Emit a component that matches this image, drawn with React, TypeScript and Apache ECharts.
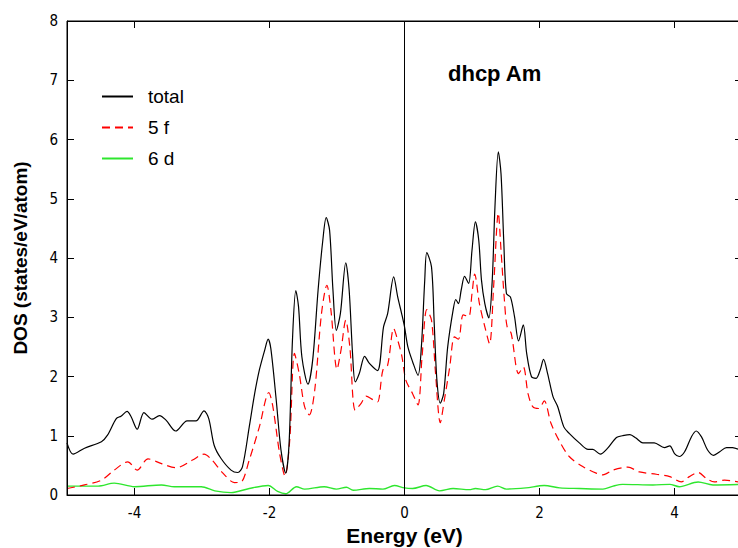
import React, { useEffect, useRef } from "react";
import * as echarts from "echarts";

const xTicks = [-4, -2, 0, 2, 4];
const yTicks = [1, 2, 3, 4, 5, 6, 7];

const totalE = [-5.0, -4.91, -4.74, -4.49, -4.4, -4.27, -4.2, -4.11, -4.05, -3.96, -3.86, -3.74, -3.63, -3.53, -3.39, -3.22, -3.09, -2.97, -2.9, -2.82, -2.72, -2.57, -2.47, -2.4, -2.3, -2.22, -2.15, -2.07, -2.02, -1.98, -1.9, -1.83, -1.76, -1.71, -1.66, -1.61, -1.57, -1.52, -1.43, -1.36, -1.28, -1.21, -1.16, -1.11, -1.06, -1.01, -0.95, -0.87, -0.82, -0.77, -0.73, -0.67, -0.59, -0.52, -0.4, -0.31, -0.25, -0.16, -0.1, -0.04, 0.0, 0.05, 0.12, 0.2, 0.25, 0.3, 0.33, 0.4, 0.44, 0.48, 0.53, 0.58, 0.64, 0.72, 0.76, 0.8, 0.84, 0.89, 0.95, 1.0, 1.05, 1.1, 1.14, 1.19, 1.25, 1.3, 1.34, 1.39, 1.43, 1.47, 1.51, 1.57, 1.63, 1.69, 1.76, 1.81, 1.88, 1.95, 2.01, 2.06, 2.12, 2.2, 2.27, 2.36, 2.44, 2.59, 2.72, 2.79, 2.9, 3.01, 3.14, 3.23, 3.34, 3.43, 3.53, 3.7, 3.85, 3.93, 4.0, 4.07, 4.15, 4.25, 4.32, 4.4, 4.49, 4.58, 4.67, 4.77, 4.86, 5.0];
const totalDOS = [0.88, 0.69, 0.79, 0.9, 1.01, 1.29, 1.33, 1.41, 1.32, 1.11, 1.39, 1.28, 1.34, 1.26, 1.08, 1.25, 1.25, 1.42, 1.29, 0.84, 0.62, 0.42, 0.38, 0.48, 1.15, 1.71, 2.11, 2.45, 2.63, 2.47, 1.6, 0.76, 0.37, 0.87, 2.61, 3.45, 3.18, 2.33, 1.87, 2.28, 3.46, 4.3, 4.68, 4.47, 3.46, 2.78, 3.06, 3.92, 3.46, 2.39, 1.91, 2.05, 2.34, 2.22, 2.1, 2.84, 3.06, 3.68, 3.34, 3.05, 2.84, 2.5, 2.25, 2.02, 2.5, 3.63, 4.09, 3.85, 2.9, 1.94, 1.55, 1.71, 2.5, 3.12, 3.3, 3.23, 3.46, 3.69, 3.57, 4.13, 4.61, 4.3, 3.63, 3.23, 2.99, 3.63, 4.86, 5.79, 5.42, 4.3, 3.4, 3.34, 3.01, 2.6, 2.87, 2.39, 2.0, 1.97, 2.11, 2.29, 2.05, 1.66, 1.49, 1.15, 1.04, 0.88, 0.77, 0.77, 0.69, 0.79, 0.97, 1.0, 1.02, 0.96, 0.88, 0.88, 0.8, 0.83, 0.7, 0.65, 0.73, 0.98, 1.08, 0.98, 0.76, 0.67, 0.73, 0.8, 0.8, 0.74];

const f5E = [-5.0, -4.74, -4.49, -4.3, -4.1, -3.96, -3.8, -3.6, -3.38, -3.14, -2.97, -2.86, -2.69, -2.52, -2.42, -2.3, -2.15, -2.01, -1.95, -1.85, -1.77, -1.7, -1.63, -1.56, -1.48, -1.41, -1.33, -1.23, -1.15, -1.09, -1.0, -0.94, -0.87, -0.81, -0.73, -0.64, -0.57, -0.47, -0.4, -0.32, -0.25, -0.16, -0.1, -0.04, 0.02, 0.12, 0.2, 0.26, 0.33, 0.4, 0.46, 0.53, 0.59, 0.67, 0.74, 0.8, 0.87, 0.95, 1.0, 1.04, 1.11, 1.19, 1.26, 1.32, 1.39, 1.43, 1.48, 1.52, 1.58, 1.69, 1.76, 1.83, 1.9, 1.99, 2.07, 2.17, 2.3, 2.44, 2.64, 2.84, 2.94, 3.09, 3.31, 3.48, 3.73, 3.93, 4.1, 4.22, 4.35, 4.47, 4.59, 4.74, 5.0];
const f5DOS = [0.11, 0.17, 0.25, 0.42, 0.56, 0.42, 0.61, 0.53, 0.46, 0.59, 0.69, 0.6, 0.37, 0.21, 0.22, 0.59, 1.15, 1.73, 1.49, 0.7, 0.32, 0.93, 2.39, 2.05, 1.49, 1.35, 1.77, 3.06, 3.54, 3.12, 2.12, 2.45, 2.95, 2.5, 1.43, 1.55, 1.67, 1.61, 1.57, 2.11, 2.19, 2.81, 2.61, 2.35, 1.94, 1.71, 1.52, 2.33, 3.13, 2.95, 2.05, 1.22, 1.6, 2.16, 2.67, 2.63, 3.04, 3.01, 3.4, 3.73, 3.23, 2.84, 2.55, 3.51, 4.76, 4.13, 3.29, 2.84, 2.73, 2.05, 2.16, 1.71, 1.49, 1.46, 1.59, 1.21, 0.9, 0.65, 0.48, 0.37, 0.34, 0.42, 0.47, 0.39, 0.35, 0.31, 0.22, 0.31, 0.38, 0.28, 0.22, 0.25, 0.21];

const d6E = [-5.0, -4.54, -4.3, -4.0, -3.6, -3.41, -3.01, -2.81, -2.57, -2.3, -2.02, -1.88, -1.76, -1.6, -1.48, -1.19, -1.01, -0.86, -0.76, -0.52, -0.32, -0.15, 0.0, 0.12, 0.32, 0.52, 0.72, 0.96, 1.05, 1.2, 1.38, 1.51, 1.8, 2.07, 2.3, 2.59, 2.94, 3.09, 3.23, 3.68, 3.93, 4.07, 4.35, 4.57, 5.0];
const d6DOS = [0.15, 0.15, 0.2, 0.14, 0.17, 0.14, 0.14, 0.07, 0.04, 0.11, 0.16, 0.06, 0.02, 0.14, 0.1, 0.14, 0.1, 0.13, 0.08, 0.11, 0.1, 0.16, 0.12, 0.11, 0.16, 0.07, 0.11, 0.09, 0.11, 0.09, 0.15, 0.1, 0.12, 0.16, 0.12, 0.11, 0.1, 0.15, 0.18, 0.17, 0.18, 0.14, 0.22, 0.17, 0.18];

const seriesNames = ["total", "5 f", "6 d"];
const titleText = "dhcp Am";
const xName = "Energy (eV)";
const yName = "DOS (states/eV/atom)";

const zip = (xs: number[], ys: number[]) => xs.map((x, i) => [x, ys[i]]);

const labelFont = "'Liberation Sans Narrow', 'DejaVu Sans Condensed', 'Liberation Sans', sans-serif";
const textFont = "'Liberation Sans', Arial, sans-serif";

const X_MIN = -5;
const X_MAX = 5;
const Y_MIN = 0;
const Y_MAX = 8;

const W = 738;
const H = 548;
const GRID = { left: 67, top: 21, right: -4, bottom: 53 };
const TICK_PX = 7;

export default function App() {
  const ref = useRef<HTMLDivElement>(null);
  useEffect(() => {
    if (!ref.current) return;
    const chart = echarts.init(ref.current, undefined, { renderer: "svg" });

    // tick length expressed in axis units from the grid size
    const plotW = W - GRID.left - GRID.right;
    const plotH = H - GRID.top - GRID.bottom;
    const dx = (TICK_PX * (X_MAX - X_MIN)) / plotW;
    const dy = (TICK_PX * (Y_MAX - Y_MIN)) / plotH;

    const seg = (a: number[], b: number[]) => [{ coord: a }, { coord: b }];
    const tickLines: any[] = [];
    xTicks.forEach((v) => {
      tickLines.push(seg([v, Y_MIN], [v, Y_MIN + dy]));
      tickLines.push(seg([v, Y_MAX], [v, Y_MAX - dy]));
    });
    yTicks.forEach((v) => {
      tickLines.push(seg([X_MIN, v], [X_MIN + dx, v]));
      tickLines.push(seg([X_MAX, v], [X_MAX - dx, v]));
    });
    tickLines.push(seg([0, Y_MIN], [0, Y_MAX]));
    tickLines.push(seg([X_MIN, Y_MIN], [X_MIN, Y_MAX]));
    tickLines.push(seg([X_MIN, Y_MAX], [X_MAX, Y_MAX]));
    tickLines.push(seg([X_MIN, Y_MIN], [X_MAX, Y_MIN]));

    const frameData = [
      [X_MIN, Y_MIN],
      [X_MIN, Y_MAX],
      [X_MAX, Y_MAX],
      [X_MAX, Y_MIN],
      [X_MIN, Y_MIN],
    ];

    chart.setOption({
      animation: false,
      backgroundColor: "#ffffff",
      grid: {
        ...GRID,
        outerBoundsMode: "none",
        containLabel: false,
        show: false,
      },
      title: {
        text: titleText,
        left: 443,
        top: 57,
        textStyle: { fontFamily: textFont, fontWeight: "bold", fontSize: 22, color: "#000" },
      },
      legend: {
        orient: "vertical",
        left: 96,
        top: 82,
        itemWidth: 31,
        itemHeight: 12,
        itemGap: 12,
        data: seriesNames,
        itemStyle: { opacity: 0 },
        textStyle: { fontFamily: textFont, fontSize: 19, color: "#000", lineHeight: 19, padding: [0, 0, 0, 10] },
      },
      xAxis: {
        type: "value",
        min: X_MIN,
        max: X_MAX,
        interval: 1,
        position: "bottom",
        axisLine: { show: true, onZero: false, lineStyle: { color: "#000", width: 1 } },
        axisTick: { show: false },
        splitLine: { show: false },
        name: xName,
        nameLocation: "middle",
        nameGap: 28,
        nameTextStyle: { fontFamily: textFont, fontWeight: "bold", fontSize: 21, color: "#000" },
        axisLabel: { show: true, customValues: xTicks, fontFamily: labelFont, fontSize: 15, color: "#000", margin: 10 },
      },
      yAxis: {
        type: "value",
        min: Y_MIN,
        max: Y_MAX,
        interval: 1,
        position: "left",
        axisLine: { show: true, onZero: false, lineStyle: { color: "#000", width: 1 } },
        axisTick: { show: false },
        splitLine: { show: false },
        name: yName,
        nameLocation: "middle",
        nameGap: 37,
        nameTextStyle: { fontFamily: textFont, fontWeight: "bold", fontSize: 19, color: "#000" },
        axisLabel: { show: true, fontFamily: labelFont, fontSize: 15, color: "#000", margin: 9 },
      },
      series: [
        {
          name: seriesNames[0],
          type: "line",
          data: zip(totalE, totalDOS),
          smooth: 0.3,
          symbol: "none",
          lineStyle: { color: "#000", width: 1.2 },
          itemStyle: { color: "#000" },
          z: 3,
        },
        {
          name: seriesNames[1],
          type: "line",
          data: zip(f5E, f5DOS),
          smooth: 0.3,
          symbol: "none",
          lineStyle: { color: "#ff0000", width: 1.2, type: [8, 5] },
          itemStyle: { color: "#ff0000" },
          z: 2,
        },
        {
          name: seriesNames[2],
          type: "line",
          data: zip(d6E, d6DOS),
          smooth: 0.3,
          symbol: "none",
          lineStyle: { color: "#2ee62e", width: 1.4 },
          itemStyle: { color: "#2ee62e" },
          z: 1,
        },
        {
          name: "frame",
          type: "line",
          data: frameData,
          smooth: false,
          symbol: "none",
          clip: false,
          silent: true,
          z: 10,
          lineStyle: { color: "#000", width: 1 },
          itemStyle: { color: "#000" },
          markLine: {
            silent: true,
            symbol: "none",
            label: { show: false },
            lineStyle: { color: "#000", width: 1, type: "solid" },
            data: tickLines,
          },
        },
      ],
    });

    return () => chart.dispose();
  }, []);
  return <div ref={ref} style={{ width: W, height: H, position: "absolute", left: 0, top: 0 }} />;
}
